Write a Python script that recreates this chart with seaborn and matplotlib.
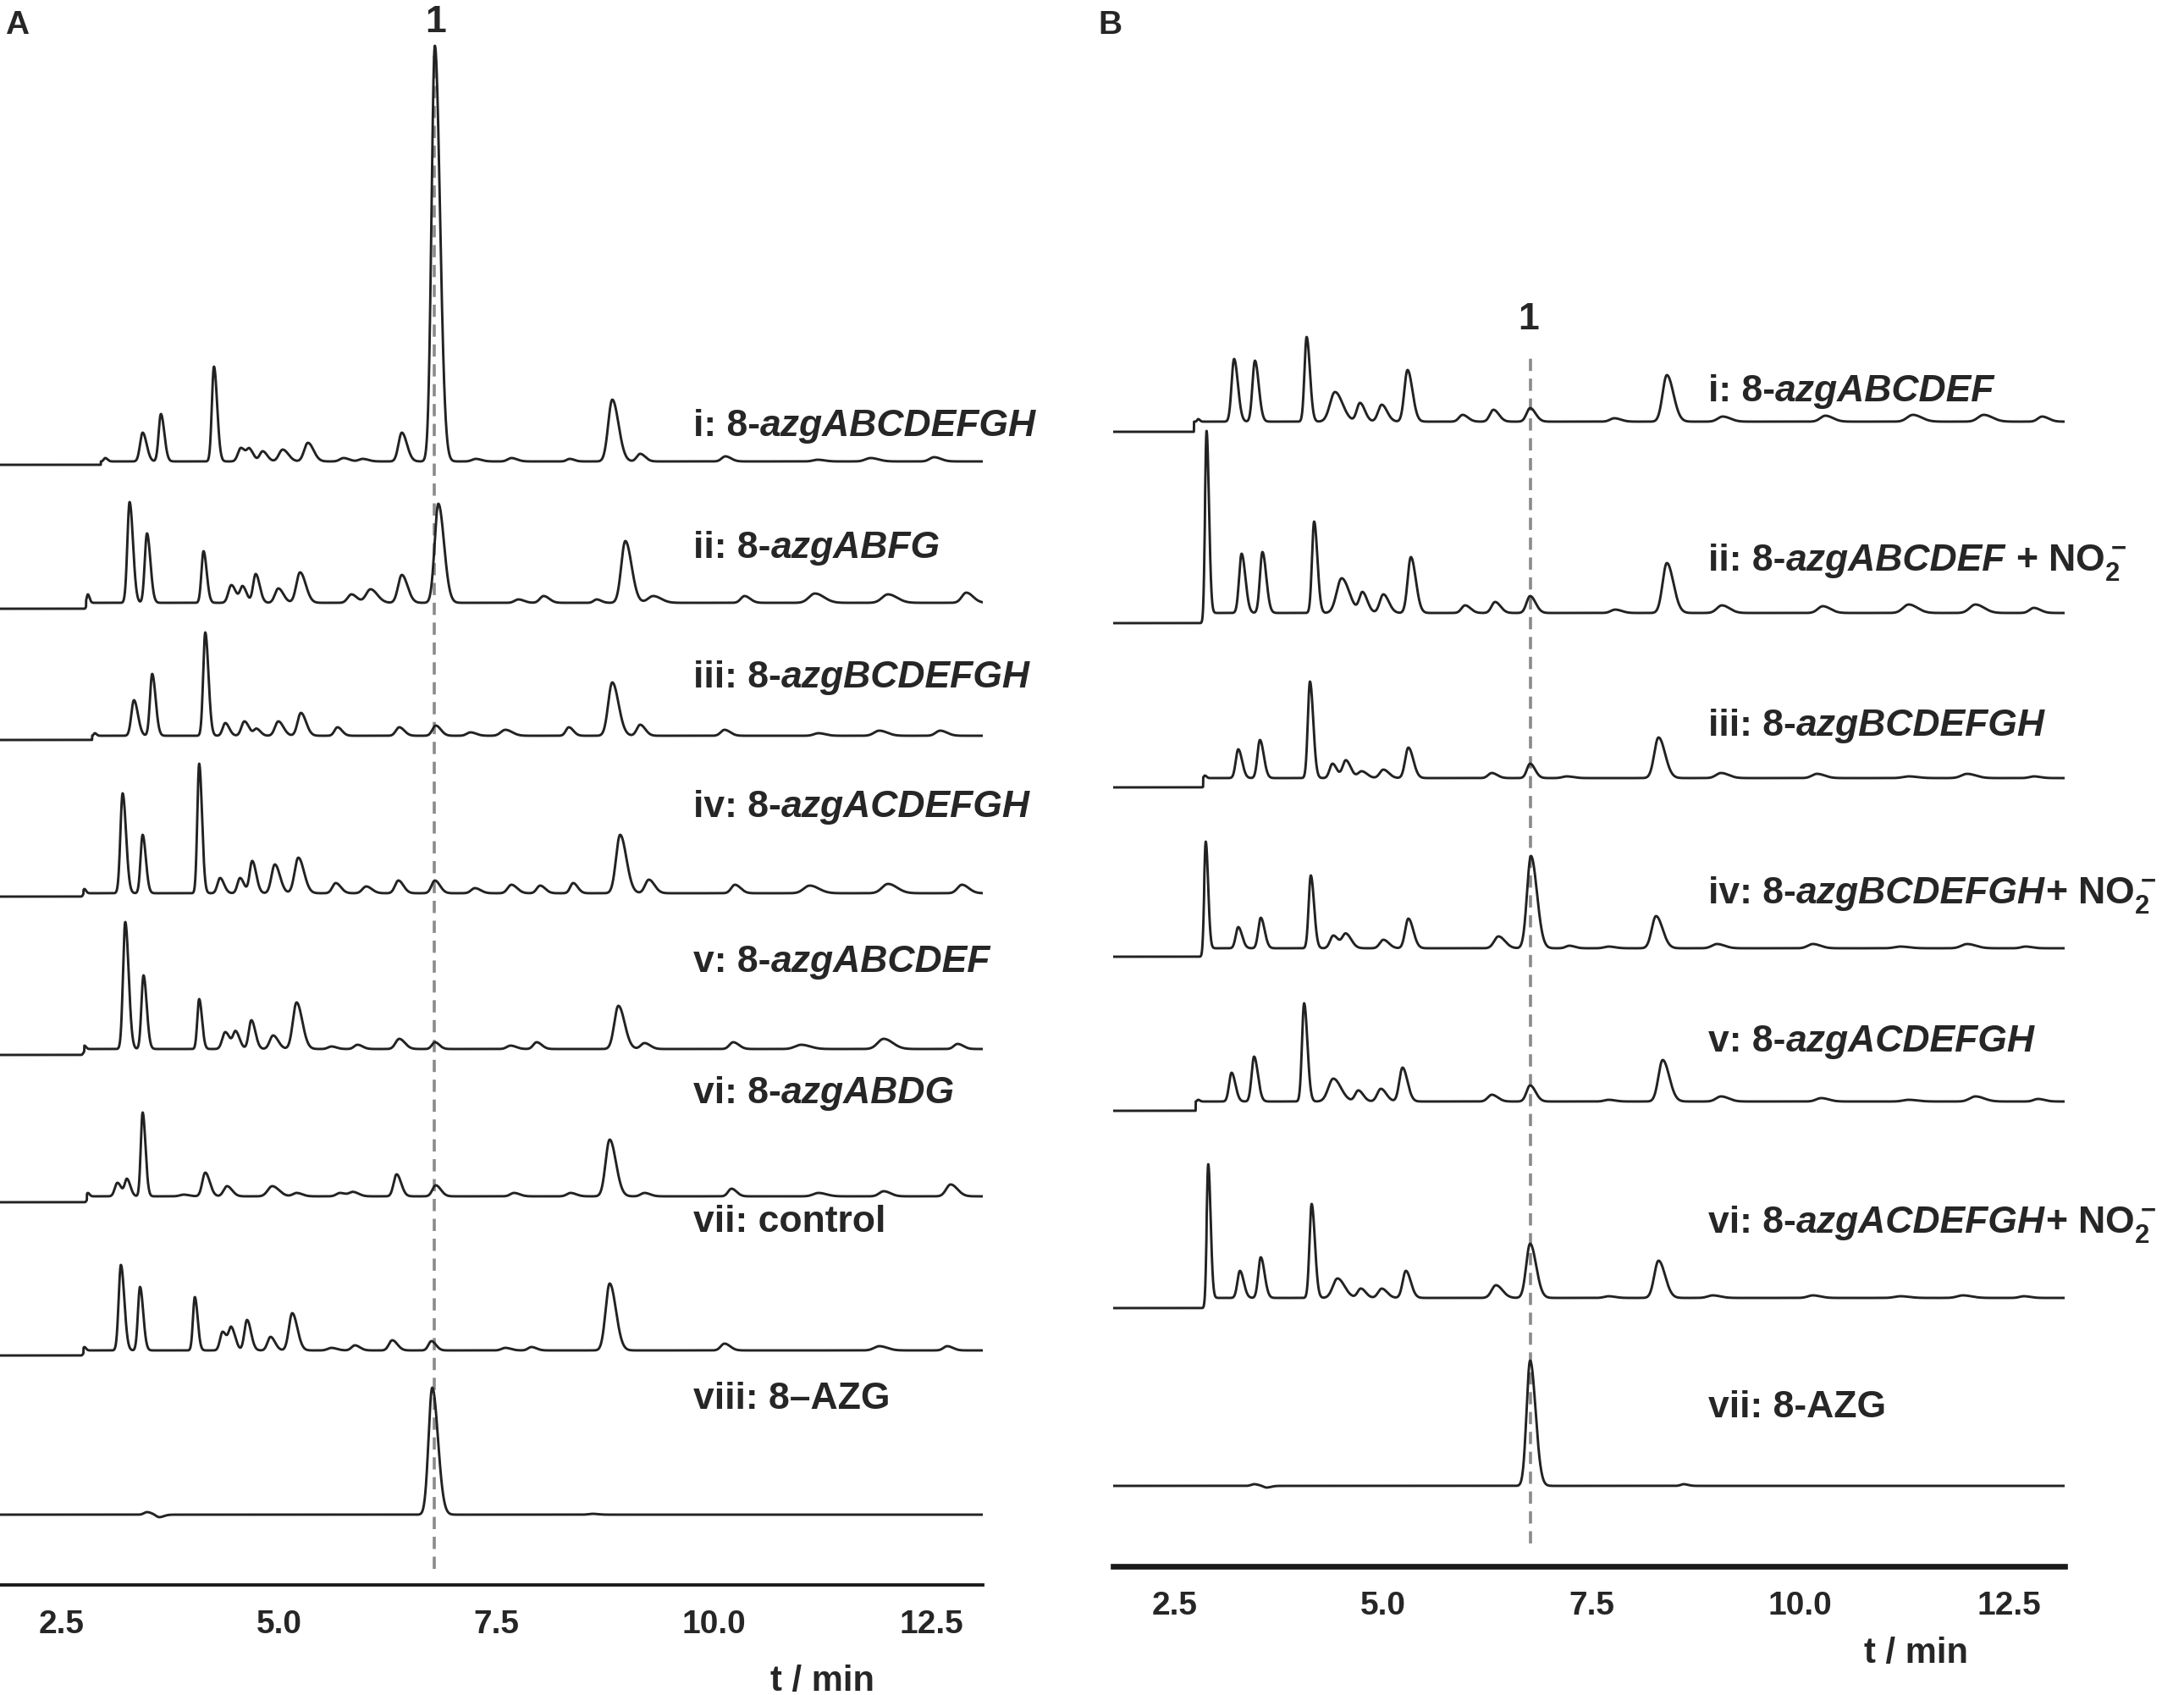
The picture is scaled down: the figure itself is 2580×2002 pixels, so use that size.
import numpy as np
import pandas as pd
import seaborn as sns
import matplotlib.pyplot as plt
from matplotlib.ticker import MultipleLocator, FormatStrFormatter

# ---------------- data: peak tables ----------------
# retention time (min), peak height (signal units), peak width (sigma, min)
# panel A
a1_rt = [3.00, 3.43, 3.64, 4.25, 4.56, 4.66, 4.81, 5.04, 5.33, 5.74, 5.96, 6.41, 6.79, 7.26, 7.67, 8.34, 8.83, 9.15, 10.13, 11.19, 11.80, 12.53]
a1_h = [4, 34, 56, 112, 16, 13, 12, 14, 22, 4, 3, 34, 491, 3, 4, 3, 73, 9, 6, 2, 4, 5]
a1_w = [0.02, 0.035, 0.03, 0.028, 0.04, 0.035, 0.04, 0.05, 0.05, 0.05, 0.05, 0.045, 0.045, 0.05, 0.05, 0.04, 0.055, 0.045, 0.05, 0.06, 0.07, 0.06]

a2_rt = [2.80, 3.28, 3.48, 4.13, 4.45, 4.58, 4.73, 4.99, 5.24, 5.83, 6.05, 6.41, 6.83, 7.75, 8.04, 8.65, 8.98, 9.30, 10.35, 11.16, 12.00, 12.90]
a2_h = [10, 119, 82, 61, 21, 19, 34, 17, 36, 10, 16, 33, 117, 4, 8, 4, 73, 8, 8, 11, 10, 12]
a2_w = [0.015, 0.03, 0.03, 0.028, 0.04, 0.035, 0.035, 0.045, 0.05, 0.05, 0.06, 0.05, 0.05, 0.05, 0.05, 0.04, 0.055, 0.07, 0.05, 0.08, 0.08, 0.06]

a3_rt = [2.88, 3.33, 3.54, 4.15, 4.38, 4.60, 4.74, 4.99, 5.25, 5.67, 6.38, 6.80, 7.20, 7.60, 8.33, 8.83, 9.15, 10.12, 11.20, 11.90, 12.60]
a3_h = [3, 42, 73, 122, 15, 17, 8, 17, 27, 10, 10, 12, 4, 7, 10, 63, 13, 7, 3, 6, 6]
a3_w = [0.015, 0.035, 0.03, 0.028, 0.035, 0.04, 0.035, 0.045, 0.045, 0.04, 0.045, 0.045, 0.05, 0.06, 0.04, 0.055, 0.045, 0.05, 0.06, 0.07, 0.06]

a4_rt = [2.76, 3.20, 3.43, 4.08, 4.32, 4.55, 4.69, 4.95, 5.22, 5.65, 6.00, 6.37, 6.79, 7.25, 7.67, 8.00, 8.38, 8.92, 9.25, 10.24, 11.10, 12.00, 12.85]
a4_h = [5, 118, 69, 153, 18, 18, 38, 34, 42, 12, 8, 15, 15, 6, 10, 9, 12, 69, 16, 10, 9, 11, 10]
a4_w = [0.015, 0.03, 0.028, 0.025, 0.035, 0.035, 0.035, 0.045, 0.05, 0.045, 0.05, 0.045, 0.045, 0.05, 0.05, 0.045, 0.04, 0.055, 0.05, 0.05, 0.08, 0.08, 0.06]

a5_rt = [2.76, 3.23, 3.44, 4.08, 4.38, 4.50, 4.68, 4.93, 5.20, 5.60, 5.90, 6.38, 6.79, 7.66, 7.96, 8.90, 9.20, 10.22, 11.00, 11.95, 12.80]
a5_h = [4, 150, 87, 59, 20, 20, 34, 16, 55, 3, 5, 12, 8, 4, 8, 51, 7, 8, 5, 12, 6]
a5_w = [0.015, 0.03, 0.028, 0.025, 0.04, 0.035, 0.035, 0.045, 0.05, 0.045, 0.045, 0.05, 0.04, 0.05, 0.045, 0.055, 0.05, 0.05, 0.08, 0.08, 0.05]

a6_rt = [2.80, 3.14, 3.25, 3.43, 3.90, 4.15, 4.40, 4.92, 5.20, 5.70, 5.85, 6.35, 6.80, 7.70, 8.35, 8.80, 9.20, 10.20, 11.20, 11.95, 12.72]
a6_h = [4, 16, 20, 99, 2, 28, 12, 12, 4, 4, 5, 26, 13, 4, 4, 67, 4, 9, 4, 6, 14]
a6_w = [0.015, 0.035, 0.03, 0.025, 0.05, 0.04, 0.045, 0.06, 0.05, 0.05, 0.05, 0.04, 0.045, 0.05, 0.05, 0.055, 0.05, 0.045, 0.07, 0.06, 0.06]

a7_rt = [2.76, 3.18, 3.40, 4.03, 4.35, 4.45, 4.63, 4.90, 5.15, 5.60, 5.87, 6.30, 6.75, 7.60, 7.90, 8.80, 10.12, 11.90, 12.68]
a7_h = [4, 101, 75, 63, 22, 26, 36, 16, 44, 3, 6, 12, 11, 3, 4, 79, 8, 5, 5]
a7_w = [0.015, 0.03, 0.028, 0.025, 0.035, 0.035, 0.035, 0.04, 0.045, 0.05, 0.045, 0.045, 0.04, 0.05, 0.045, 0.055, 0.05, 0.07, 0.05]

a8_rt = [3.48, 3.62, 6.76, 8.60]
a8_h = [3, -3, 150, 1]
a8_w = [0.04, 0.04, 0.05, 0.05]

# solvent-front step of each baseline (time, drop before it)
a_step_t = [2.95, 2.78, 2.85, 2.75, 2.76, 2.79, 2.75, 0.0]
a_step_h = [4, 7, 5, 4, 7, 7, 6, 0]

# panel B
b1_rt = [2.78, 3.21, 3.46, 4.08, 4.42, 4.72, 4.98, 5.29, 5.95, 6.32, 6.76, 7.77, 8.40, 9.07, 10.30, 11.35, 12.20, 12.90]
b1_h = [3, 74, 72, 100, 35, 22, 20, 61, 8, 14, 16, 4, 55, 6, 7, 8, 8, 6]
b1_w = [0.015, 0.035, 0.035, 0.03, 0.07, 0.045, 0.05, 0.045, 0.05, 0.05, 0.05, 0.06, 0.06, 0.07, 0.07, 0.08, 0.08, 0.06]

b2_rt = [2.88, 3.30, 3.55, 4.17, 4.50, 4.75, 5.00, 5.33, 5.98, 6.34, 6.76, 7.78, 8.40, 9.06, 10.27, 11.30, 12.10, 12.80]
b2_h = [215, 70, 72, 108, 41, 24, 22, 66, 9, 13, 20, 4, 59, 9, 8, 10, 10, 6]
b2_w = [0.022, 0.035, 0.035, 0.03, 0.07, 0.045, 0.05, 0.045, 0.05, 0.05, 0.05, 0.06, 0.06, 0.07, 0.07, 0.08, 0.08, 0.06]

b3_rt = [2.86, 3.26, 3.52, 4.12, 4.39, 4.55, 4.74, 5.00, 5.30, 6.30, 6.76, 7.20, 8.30, 9.05, 10.20, 11.30, 12.00, 12.80]
b3_h = [3, 34, 45, 114, 17, 21, 8, 10, 36, 6, 17, 2, 48, 6, 5, 2, 5, 2]
b3_w = [0.015, 0.035, 0.035, 0.03, 0.04, 0.045, 0.05, 0.05, 0.045, 0.05, 0.045, 0.06, 0.06, 0.07, 0.07, 0.08, 0.08, 0.06]

b4_rt = [2.87, 3.26, 3.53, 4.13, 4.40, 4.55, 5.00, 5.30, 6.38, 6.77, 7.23, 7.70, 8.27, 9.00, 10.15, 11.20, 12.00, 12.70]
b4_h = [126, 25, 36, 86, 15, 17, 10, 35, 14, 109, 3, 2, 38, 5, 5, 2, 5, 2]
b4_w = [0.022, 0.035, 0.035, 0.03, 0.045, 0.05, 0.05, 0.045, 0.06, 0.055, 0.05, 0.06, 0.06, 0.07, 0.07, 0.08, 0.08, 0.06]

b5_rt = [2.78, 3.18, 3.45, 4.05, 4.40, 4.70, 4.97, 5.23, 6.30, 6.76, 7.70, 8.35, 9.05, 10.25, 11.30, 12.10, 12.85]
b5_h = [2, 34, 53, 116, 27, 13, 15, 40, 8, 19, 2, 49, 6, 4, 2, 6, 3]
b5_w = [0.015, 0.035, 0.035, 0.03, 0.07, 0.045, 0.05, 0.045, 0.055, 0.05, 0.06, 0.06, 0.07, 0.07, 0.08, 0.08, 0.06]

b6_rt = [2.90, 3.28, 3.53, 4.14, 4.45, 4.73, 4.98, 5.27, 6.35, 6.76, 7.70, 8.30, 8.95, 10.15, 11.20, 11.95, 12.68]
b6_h = [158, 32, 48, 111, 23, 11, 11, 32, 15, 64, 2, 44, 3, 3, 2, 3, 2]
b6_w = [0.022, 0.035, 0.035, 0.03, 0.065, 0.045, 0.05, 0.045, 0.06, 0.055, 0.06, 0.06, 0.07, 0.07, 0.08, 0.08, 0.06]

b7_rt = [3.45, 3.60, 6.76, 8.60]
b7_h = [2, -2, 148, 2]
b7_w = [0.04, 0.04, 0.05, 0.04]

b_step_t = [2.73, 2.86, 2.84, 2.85, 2.75, 2.88, 0.0]
b_step_h = [12, 12, 11, 10, 11, 12, 0]

# retention time of compound 1
peak1_a = 6.78
peak1_b = 6.76

# trace labels: (text, style) pieces
N, I = 'normal', 'italic'
a_labels = [
    [("i: 8-", N), ("azgABCDEFGH", I)],
    [("ii: 8-", N), ("azgABFG", I)],
    [("iii: 8-", N), ("azgBCDEFGH", I)],
    [("iv: 8-", N), ("azgACDEFGH", I)],
    [("v: 8-", N), ("azgABCDEF", I)],
    [("vi: 8-", N), ("azgABDG", I)],
    [("vii: control", N)],
    [("viii: 8\u2013AZG", N)],
]
b_labels = [
    [("i: 8-", N), ("azgABCDEF", I)],
    [("ii: 8-", N), ("azgABCDEF", I), (" + NO$_2^-$", N)],
    [("iii: 8-", N), ("azgBCDEFGH", I)],
    [("iv: 8-", N), ("azgBCDEFGH", I), ("+ NO$_2^-$", N)],
    [("v: 8-", N), ("azgACDEFGH", I)],
    [("vi: 8-", N), ("azgACDEFGH", I), ("+ NO$_2^-$", N)],
    [("vii: 8-AZG", N)],
]

# ---------------- layout (pixel geometry of the 2580x2002 figure) ----------------
W, H = 2580, 2002
a_offsets = [1327, 1160, 1003, 817, 633, 459, 277, 83]
b_offsets = [1352, 1126, 931, 730, 549, 317, 95]
a_label_y = [515, 659, 812, 965, 1148, 1303, 1455, 1664]
b_label_y = [474, 674, 869, 1067, 1242, 1456, 1674]

sns.set_style("white")
plt.rcParams['font.family'] = ['Liberation Sans', 'DejaVu Sans']
plt.rcParams['font.weight'] = 'bold'
plt.rcParams['mathtext.default'] = 'regular'

LINE = '#222222'


def chromatogram(t, rt, h, w, step_t, step_h):
    y = np.where(t < step_t, -float(step_h), 0.0)
    for r, hh, ww in zip(rt, h, w):
        left = hh * np.exp(-0.5 * ((t - r) / (ww * 0.85)) ** 2)
        right = hh * np.exp(-0.5 * ((t - r) / (ww * 1.3)) ** 2)
        y = y + np.where(t < r, left, right)
    return y


def build_frame(t, peaks, steps_t, steps_h, offsets):
    rows = []
    for k, (rt, h, w) in enumerate(peaks):
        y = chromatogram(t, rt, h, w, steps_t[k], steps_h[k]) + offsets[k]
        rows.append(pd.DataFrame({'t': t, 'signal': y, 'trace': k}))
    return pd.concat(rows, ignore_index=True)


def label(fig, ax, x_px, y_px, parts, size=16):
    fx, fy = x_px / W, 1 - y_px / H
    prev = fig.text(fx, fy, parts[0][0], fontsize=size, fontweight='bold',
                    fontstyle=parts[0][1], ha='left', va='baseline', zorder=10)
    for txt, style in parts[1:]:
        prev = ax.annotate(txt, xy=(1, fy), xycoords=(prev, 'figure fraction'),
                           fontsize=size, fontweight='bold', fontstyle=style,
                           ha='left', va='baseline', annotation_clip=False, zorder=10)


def style_axis(ax, spine_w):
    ax.set_facecolor('none')
    for s in ['left', 'right', 'top']:
        ax.spines[s].set_visible(False)
    ax.spines['bottom'].set_linewidth(spine_w)
    ax.spines['bottom'].set_color('#1a1a1a')
    ax.set_yticks([])
    ax.xaxis.set_major_locator(MultipleLocator(2.5))
    ax.xaxis.set_minor_locator(MultipleLocator(0.5))
    ax.xaxis.set_major_formatter(FormatStrFormatter('%.1f'))
    ax.tick_params(axis='x', which='major', direction='out', length=6.5, width=1.2,
                   labelsize=14, pad=4, color='#1a1a1a')
    ax.tick_params(axis='x', which='minor', direction='out', length=3.6, width=1.0,
                   color='#1a1a1a')
    ax.set_xlabel('')
    ax.set_ylabel('')


fig = plt.figure(figsize=(W / 200, H / 200), dpi=200)
ax_a = fig.add_axes([0.0, 1 - 1872 / H, 1161 / W, (1872 - 40) / H])
ax_b = fig.add_axes([1315 / W, 1 - 1850 / H, (2439 - 1315) / W, (1850 - 40) / H])

# panel A
xa = (1.79, 13.09)
ta = np.linspace(xa[0], xa[1], 6000)
peaks_a = [(a1_rt, a1_h, a1_w), (a2_rt, a2_h, a2_w), (a3_rt, a3_h, a3_w), (a4_rt, a4_h, a4_w),
           (a5_rt, a5_h, a5_w), (a6_rt, a6_h, a6_w), (a7_rt, a7_h, a7_w), (a8_rt, a8_h, a8_w)]
df_a = build_frame(ta, peaks_a, a_step_t, a_step_h, a_offsets)
sns.lineplot(data=df_a, x='t', y='signal', units='trace', estimator=None, sort=False,
             color=LINE, lw=1.05, ax=ax_a, zorder=3)
ax_a.axvline(peak1_a, ymin=19 / 1832, ymax=1806 / 1832, color='#8a8a8a', lw=1.3,
             ls=(0, (4, 2.5)), zorder=1)
ax_a.set_xlim(*xa)
ax_a.set_ylim(0, 1832)
style_axis(ax_a, 1.4)

# panel B
xb = (1.76, 13.17)
tb = np.linspace(xb[0], xb[1], 6000)
peaks_b = [(b1_rt, b1_h, b1_w), (b2_rt, b2_h, b2_w), (b3_rt, b3_h, b3_w), (b4_rt, b4_h, b4_w),
           (b5_rt, b5_h, b5_w), (b6_rt, b6_h, b6_w), (b7_rt, b7_h, b7_w)]
df_b = build_frame(tb, peaks_b, b_step_t, b_step_h, b_offsets)
sns.lineplot(data=df_b, x='t', y='signal', units='trace', estimator=None, sort=False,
             color=LINE, lw=1.05, ax=ax_b, zorder=3)
ax_b.axvline(peak1_b, ymin=27 / 1810, ymax=1434 / 1810, color='#8a8a8a', lw=1.3,
             ls=(0, (4, 2.5)), zorder=1)
ax_b.set_xlim(*xb)
ax_b.set_ylim(0, 1810)
style_axis(ax_b, 2.4)

# texts
for parts, y in zip(a_labels, a_label_y):
    label(fig, ax_a, 819, y, parts)
for parts, y in zip(b_labels, b_label_y):
    label(fig, ax_b, 2018, y, parts)

fig.text(20 / W, 1 - 30 / H, 'A', fontsize=14, fontweight='bold', ha='center', va='center')
fig.text(1311 / W, 1 - 30 / H, 'B', fontsize=14, fontweight='bold', ha='center', va='center')
fig.text(515 / W, 1 - 26 / H, '1', fontsize=16, fontweight='bold', ha='center', va='center')
fig.text(1806 / W, 1 - 378 / H, '1', fontsize=16, fontweight='bold', ha='center', va='center')
fig.text(972 / W, 1 - 1986 / H, 't / min', fontsize=15, fontweight='bold', ha='center', va='center')
fig.text(2263 / W, 1 - 1953 / H, 't / min', fontsize=15, fontweight='bold', ha='center', va='center')

fig.savefig('out.png', dpi=200)
